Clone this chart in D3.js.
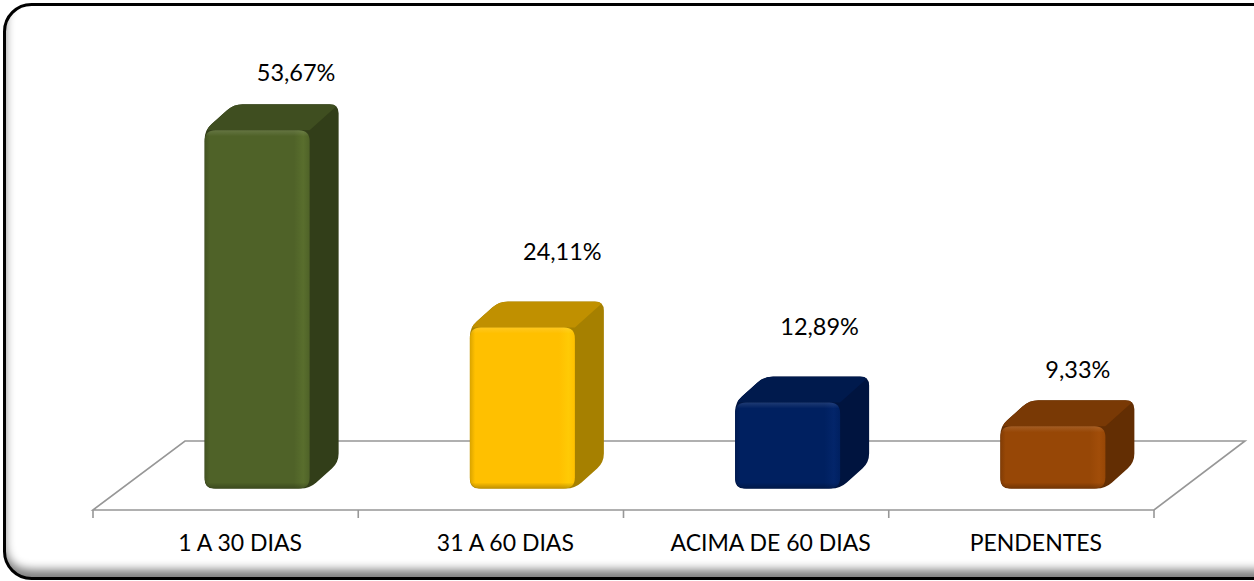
<!DOCTYPE html>
<html><head><meta charset="utf-8">
<script src="https://cdn.jsdelivr.net/npm/d3@7/dist/d3.min.js"></script>
<style>html,body{margin:0;padding:0;background:#fff;overflow:hidden}svg{display:block}text{font-family:Lato,"Open Sans",sans-serif;fill:#000}</style>
</head><body><svg id="c" width="1254" height="581"></svg>
<script>
const categories = ["1 A 30 DIAS","31 A 60 DIAS","ACIMA DE 60 DIAS","PENDENTES"];
const values = [53.67,24.11,12.89,9.33];
const valueLabels = ["53,67%","24,11%","12,89%","9,33%"];
const frontColors = ["#4f6228","#ffc000","#002060","#974706"];
const highlightColors = ["#596e2d","#ffca05","#03256a","#a14d09"];
const topColors = ["#3f4e20","#c09000","#001a4d","#793905"];
const sideColors = ["#323e19","#a68000","#00143f","#632e03"];

const svg = d3.select("#c"), defs = svg.append("defs");
const floorL = 93, floorR = 1154, floorFront = 510, floorDX = 92, floorDY = 69;
const barBase = 488.5, barW = 105, depthX = 29, depthY = 26, rad = 9;
const labelDX = [39,40,32,25], labelDY = [58,76,76,57];
const catShift = 14.5, fontSize = 23, valueFontSize = 23.5;

const x = d3.scaleBand().domain(categories).range([floorL,floorR]);
const y = d3.scaleLinear().domain([0,60]).range([barBase,barBase-400.5]);

function roundPoly(pts,r){
  const n=pts.length,p=d3.path();
  pts.forEach((c,i)=>{
    const a=pts[(i+n-1)%n],b=pts[(i+1)%n];
    const u=(q)=>{const d=Math.hypot(q[0]-c[0],q[1]-c[1]);const k=Math.min(r,d/2)/d;return [c[0]+(q[0]-c[0])*k,c[1]+(q[1]-c[1])*k];};
    const s=u(a),e=u(b);
    if(i===0)p.moveTo(s[0],s[1]);else p.lineTo(s[0],s[1]);
    p.quadraticCurveTo(c[0],c[1],e[0],e[1]);
  });
  p.closePath();return p.toString();
}

// frame: its right side runs past the edge of the picture
const fx=4.5,fy=4.5,fw=1300,fh=574,fr=27;
defs.append("clipPath").attr("id","fc").append("rect").attr("x",fx).attr("y",fy).attr("width",fw).attr("height",fh).attr("rx",fr);
const blur=defs.append("filter").attr("id","blur").attr("x","-5%").attr("y","-10%").attr("width","110%").attr("height","120%");
blur.append("feGaussianBlur").attr("stdDeviation",5);
const ix=fx+1,iy=fy-9,iw=fw,ih=fh,ir=fr;
const ring=`M-60,-60H1400V700H-60Z M${ix+ir},${iy}H${ix+iw-ir}Q${ix+iw},${iy} ${ix+iw},${iy+ir}V${iy+ih-ir}Q${ix+iw},${iy+ih} ${ix+iw-ir},${iy+ih}H${ix+ir}Q${ix},${iy+ih} ${ix},${iy+ih-ir}V${iy+ir}Q${ix},${iy} ${ix+ir},${iy}Z`;
svg.append("g").attr("clip-path","url(#fc)").append("path").attr("d",ring).attr("fill","#000").attr("fill-rule","evenodd").attr("opacity",0.5).attr("filter","url(#blur)");
svg.append("rect").attr("x",fx).attr("y",fy).attr("width",fw).attr("height",fh).attr("rx",fr).attr("fill","none").attr("stroke","#000").attr("stroke-width",3);

// floor
const grid="#979797";
svg.append("path").attr("d",`M${floorL},${floorFront}L${floorL+floorDX},${floorFront-floorDY}L${floorR+floorDX-1},${floorFront-floorDY}L${floorR},${floorFront}Z`)
  .attr("fill","none").attr("stroke",grid).attr("stroke-width",1.6);

// axis
const axisG=svg.append("g").attr("transform",`translate(0,${floorFront})`);
axisG.call(d3.axisBottom(x).tickSize(0).tickPadding(33));
axisG.select(".domain").remove();
axisG.selectAll("text").attr("font-size",fontSize).attr("font-family","Lato").attr("dy","0.36em").attr("x",catShift);
const tickPos=x.domain().map(d=>x(d)).concat([floorR]);
svg.append("g").selectAll("line").data(tickPos).join("line")
  .attr("x1",d=>d).attr("x2",d=>d).attr("y1",floorFront).attr("y2",floorFront+8).attr("stroke",grid).attr("stroke-width",1.6);

// bars
const bars=svg.append("g");
categories.forEach((c,i)=>{
  const x0=x(c)+(x.bandwidth()-barW)/2+31.5, x1=x0+barW, yt=y(values[i]), yb=y(0);
  const g=bars.append("g");
  const sil=[[x0,yb],[x0,yt],[x0+depthX,yt-depthY],[x1+depthX,yt-depthY],[x1+depthX,yb-depthY],[x1,yb]];
  const id="s"+i;
  defs.append("clipPath").attr("id",id).append("path").attr("d",roundPoly(sil,rad));
  const cg=g.append("g").attr("clip-path",`url(#${id})`);
  cg.append("rect").attr("x",x0-1).attr("y",yt-depthY-1).attr("width",barW+depthX+2).attr("height",yb-yt+depthY+2).attr("fill",sideColors[i]);
  cg.append("polygon").attr("points",[[x0,yt],[x0+depthX,yt-depthY],[x1+depthX,yt-depthY],[x1,yt]].join(" ")).attr("fill",topColors[i]);
  const fg=defs.append("linearGradient").attr("id","f"+i);
  [[0,d3.color(frontColors[i]).darker(0.45)],[0.05,frontColors[i]],[0.85,frontColors[i]],[0.94,highlightColors[i]],[1,frontColors[i]]]
    .forEach(s=>fg.append("stop").attr("offset",s[0]).attr("stop-color",s[1]));
  const facePath=roundPoly([[x0,yb],[x0,yt],[x1,yt],[x1,yb]],rad+2);
  g.append("path").attr("d",facePath).attr("fill",`url(#f${i})`);
  const vg=defs.append("linearGradient").attr("id","v"+i).attr("x1",0).attr("x2",0).attr("y1",0).attr("y2",1);
  const k=Math.min(0.5,6/(yb-yt));
  [[0,"#fff",0.12],[k,"#fff",0],[1-k,"#000",0],[1,"#000",0.25]].forEach(s=>vg.append("stop").attr("offset",s[0]).attr("stop-color",s[1]).attr("stop-opacity",s[2]));
  g.append("path").attr("d",facePath).attr("fill",`url(#v${i})`);
  svg.append("text").attr("x",x0+barW/2+labelDX[i]).attr("y",yt-labelDY[i]+8.5).attr("text-anchor","middle").attr("font-size",valueFontSize).text(valueLabels[i]);
});
</script></body></html>
